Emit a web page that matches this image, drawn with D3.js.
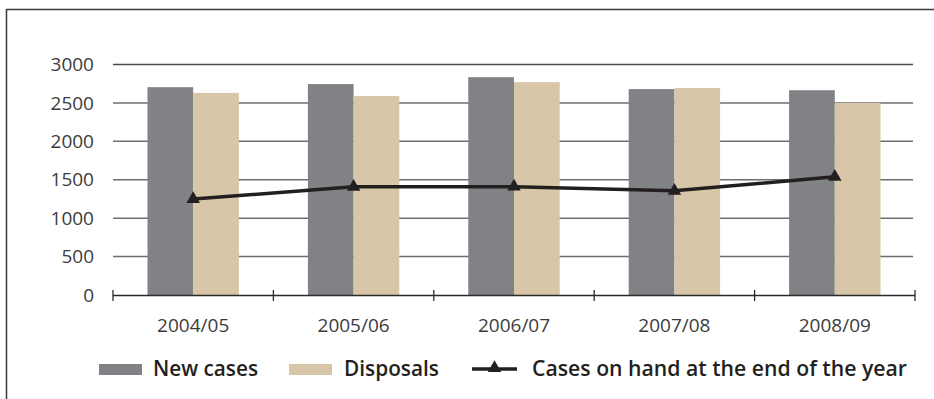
<!DOCTYPE html>
<html>
<head>
<meta charset="utf-8">
<script src="https://cdn.jsdelivr.net/npm/d3@7"></script>
<style>
  html, body { margin: 0; padding: 0; background: #fff; }
  svg { display: block; }
  text { font-family: "Open Sans", "Noto Sans", sans-serif; }
</style>
</head>
<body>
<svg id="chart" width="934" height="399"></svg>
<script>
// Court workload by financial year
const years = ["2004/05", "2005/06", "2006/07", "2007/08", "2008/09"];
const newCases = [2705, 2745, 2835, 2680, 2665];
const disposals = [2630, 2590, 2770, 2695, 2500];
const casesOnHand = [1248, 1408, 1410, 1356, 1538];
const yTicks = [0, 500, 1000, 1500, 2000, 2500, 3000];
const seriesNames = ["New cases", "Disposals", "Cases on hand at the end of the year"];

const colors = { newCases: "#818285", disposals: "#d7c6a7", line: "#231f20" };

const svg = d3.select("#chart");
svg.append("rect").attr("width", 934).attr("height", 399).attr("fill", "#fff");

// Frame (top and left edges)
svg.append("path")
  .attr("d", "M6.5,399 V9.5 H934")
  .attr("fill", "none").attr("stroke", "#3a3a3a").attr("stroke-width", 1.5);

const plotLeft = 113, plotRight = 915, plotTop = 64.5, plotBottom = 295;

const y = d3.scaleLinear().domain([0, 3000]).range([plotBottom, plotTop]);
const x0 = d3.scaleBand().domain(years).range([plotLeft, plotRight])
  .paddingInner(0.43).paddingOuter(0.215);
const x1 = d3.scaleBand().domain(["newCases", "disposals"]).range([0, x0.bandwidth()]);

// Horizontal gridlines
svg.append("g").selectAll("line")
  .data(yTicks.filter(d => d > 0))
  .join("line")
  .attr("x1", plotLeft).attr("x2", 913)
  .attr("y1", d => y(d)).attr("y2", d => y(d))
  .attr("stroke", d => d === 3000 ? "#4a4a4a" : "#6e6e6e")
  .attr("stroke-width", 1.5);

// Y axis labels
const yAxis = svg.append("g")
  .attr("transform", `translate(${plotLeft - 19},0)`)
  .call(d3.axisLeft(y).tickValues(yTicks).tickFormat(d3.format("d")).tickSize(0).tickPadding(0));
yAxis.select(".domain").remove();
yAxis.selectAll("text")
  .attr("font-size", 19).attr("fill", "#3c3c3c")
  .attr("font-family", "'Open Sans', sans-serif");

// Bars
const rows = years.map((yr, i) => ({ year: yr, newCases: newCases[i], disposals: disposals[i] }));
const groups = svg.append("g").selectAll("g")
  .data(rows).join("g")
  .attr("transform", d => `translate(${x0(d.year)},0)`);
groups.selectAll("rect")
  .data(d => ["newCases", "disposals"].map(k => ({ key: k, value: d[k] })))
  .join("rect")
  .attr("x", d => x1(d.key))
  .attr("width", x1.bandwidth())
  .attr("y", d => y(d.value))
  .attr("height", d => y(0) - y(d.value))
  .attr("fill", d => colors[d.key]);

// X axis: baseline, boundary ticks, category labels
const xAxis = svg.append("g")
  .attr("transform", `translate(0,${plotBottom})`)
  .call(d3.axisBottom(x0).tickSize(0).tickPadding(24));
xAxis.select(".domain").attr("stroke", "#2a2a2a").attr("stroke-width", 1.3)
  .attr("d", `M${plotLeft},0.5H${plotRight}`);
xAxis.selectAll("text")
  .attr("font-size", 19).attr("fill", "#3c3c3c")
  .attr("font-family", "'Open Sans', sans-serif");

const step = x0.step();
const boundaries = d3.range(years.length + 1).map(i => plotLeft + i * step);
svg.append("g").selectAll("line")
  .data(boundaries).join("line")
  .attr("x1", d => d).attr("x2", d => d)
  .attr("y1", plotBottom - 5).attr("y2", plotBottom + 6)
  .attr("stroke", "#2a2a2a").attr("stroke-width", 1.3);

// Cases on hand line with triangle markers
const cx = yr => x0(yr) + x0.bandwidth() / 2;
const linePts = years.map((yr, i) => [cx(yr), y(casesOnHand[i])]);
svg.append("path")
  .attr("d", d3.line()(linePts))
  .attr("fill", "none").attr("stroke", colors.line).attr("stroke-width", 3.5);
const tri = d3.symbol().type(d3.symbolTriangle).size(80);
svg.append("g").selectAll("path")
  .data(linePts).join("path")
  .attr("transform", d => `translate(${d[0]},${d[1]})`)
  .attr("d", tri).attr("fill", colors.line);

// Legend
const legendY = 369;
const lg = svg.append("g");
lg.append("rect").attr("x", 99).attr("y", legendY - 5).attr("width", 43).attr("height", 11).attr("fill", colors.newCases);
lg.append("rect").attr("x", 289).attr("y", legendY - 5).attr("width", 43).attr("height", 11).attr("fill", colors.disposals);
lg.append("line").attr("x1", 472).attr("x2", 517).attr("y1", legendY).attr("y2", legendY)
  .attr("stroke", colors.line).attr("stroke-width", 3.5);
lg.append("path").attr("transform", `translate(494.5,${legendY - 1})`).attr("d", tri).attr("fill", colors.line);

const legendText = [
  { name: seriesNames[0], x: 153, w: 105 },
  { name: seriesNames[1], x: 344, w: 95 },
  { name: seriesNames[2], x: 532, w: 375 }
];
lg.selectAll("text")
  .data(legendText).join("text")
  .attr("x", d => d.x).attr("y", 375.5)
  .attr("font-size", 22).attr("font-weight", 600).attr("fill", "#231f20")
  .attr("textLength", d => d.w).attr("lengthAdjust", "spacingAndGlyphs")
  .text(d => d.name);
</script>
</body>
</html>
